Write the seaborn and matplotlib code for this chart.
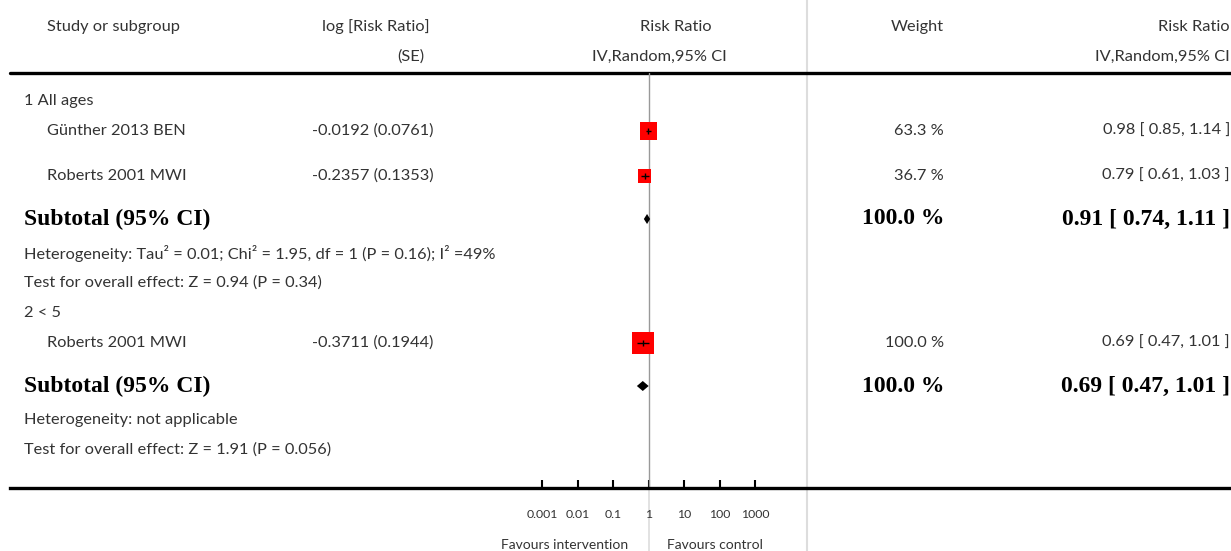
import numpy as np
import pandas as pd
import matplotlib
matplotlib.use("Agg")
import matplotlib.pyplot as plt
import seaborn as sns

# study level data
studies = ["Günther 2013 BEN", "Roberts 2001 MWI", "Roberts 2001 MWI"]
log_rr = ["-0.0192", "-0.2357", "-0.3711"]
log_se = ["0.0761", "0.1353", "0.1944"]
rr = [0.98, 0.79, 0.69]
rr_lo = [0.85, 0.61, 0.47]
rr_hi = [1.14, 1.03, 1.01]
weights = [63.3, 36.7, 100.0]

# subgroup totals
subgroups = ["1 All ages", "2 < 5"]
sub_rr = [0.91, 0.69]
sub_lo = [0.74, 0.47]
sub_hi = [1.11, 1.01]
sub_weight = [100.0, 100.0]
heterogeneity = [
    "Heterogeneity: Tau² = 0.01; Chi² = 1.95, df = 1 (P = 0.16); I² =49%",
    "Heterogeneity: not applicable",
]
overall_test = [
    "Test for overall effect: Z = 0.94 (P = 0.34)",
    "Test for overall effect: Z = 1.91 (P = 0.056)",
]

ticks = [0.001, 0.01, 0.1, 1, 10, 100, 1000]
tick_labels = ["0.001", "0.01", "0.1", "1", "10", "100", "1000"]

# layout (pixel rows)
W, H = 1231, 551
study_y = [131, 176, 343]
head_y = [101, 313]
sub_y = [219, 386]
het_y = [253, 420]
test_y = [283, 450]
top_line, axis_line = 73, 488
x_one, decade = 648.5, 35.5

sns.set_theme(style="white")
plt.rcParams["font.family"] = ["Lato", "DejaVu Sans"]
FS = 11.8
BOLD = dict(family="Liberation Serif", fontweight="bold", fontsize=17, color="black")

fig = plt.figure(figsize=(W / 100, H / 100), dpi=100)
lay = fig.add_axes([0, 0, 1, 1])
lay.set_xlim(0, W)
lay.set_ylim(H, 0)
lay.axis("off")

# forest panel
left, right = 10, W
ax = fig.add_axes([left / W, (H - axis_line) / H, (right - left) / W, (axis_line - top_line) / H])
ax.set_facecolor("none")
ax.set_xscale("log")
ax.set_xlim(10 ** ((left - x_one) / decade), 10 ** ((right - x_one) / decade))
ax.set_ylim(axis_line, top_line)
for s in ["top", "left", "right"]:
    ax.spines[s].set_visible(False)
ax.spines["bottom"].set_linewidth(2.4)
ax.spines["bottom"].set_color("black")

ax.axvline(1, color="#999999", lw=1, zorder=1)
ax.plot([1, 1], [axis_line, H], color="#dddddd", lw=1.2, clip_on=False, zorder=0)

df = pd.DataFrame({"rr": rr, "y": study_y, "w": weights})
side = 2.17 * np.sqrt(df["w"]) * 0.72
sns.scatterplot(data=df, x="rr", y="y", marker="s", s=side ** 2, color="#ff0000",
                linewidth=0, legend=False, ax=ax, zorder=3)
ax.hlines(study_y, rr_lo, rr_hi, color="black", lw=1, zorder=4)
ax.scatter(rr, study_y, marker="|", s=20, color="black", lw=1, zorder=4)

for r, lo, hi, y in zip(sub_rr, sub_lo, sub_hi, sub_y):
    ax.fill([lo, r, hi, r], [y, y - 5, y, y + 5], color="black", lw=0, zorder=4)

ax.set_xticks(ticks)
ax.set_xticklabels(tick_labels)
ax.minorticks_off()
ax.set_yticks([])
ax.tick_params(axis="x", bottom=True, direction="in", length=5.5, width=1.5, color="black",
               labelsize=8.8, pad=15, labelcolor="#333333")
ax.set_xlabel("")
ax.set_ylabel("")

# separator lines
lay.plot([10, W], [top_line, top_line], color="black", lw=2.4)
lay.plot([807, 807], [0, H], color="#dddddd", lw=1.5, zorder=0)

txt = dict(fontsize=FS, color="#333333", va="center")

# headers
lay.text(47, 27, "Study or subgroup", ha="left", **txt)
lay.text(430, 27, "log [Risk Ratio]", ha="right", **txt)
lay.text(424, 57, "(SE)", ha="right", **txt)
lay.text(676, 27, "Risk Ratio", ha="center", **txt)
lay.text(727, 57, "IV,Random,95% CI", ha="right", **txt)
lay.text(944, 27, "Weight", ha="right", **txt)
lay.text(1230, 27, "Risk Ratio", ha="right", **txt)
lay.text(1230, 57, "IV,Random,95% CI", ha="right", **txt)

for name, est, se, w, r, lo, hi, y in zip(studies, log_rr, log_se, weights, rr, rr_lo, rr_hi, study_y):
    lay.text(47, y, name, ha="left", **txt)
    lay.text(312, y, f"{est} ({se})", ha="left", **txt)
    lay.text(944, y, f"{w:.1f} %", ha="right", **txt)
    lay.text(1230, y, f"{r:.2f} [ {lo:.2f}, {hi:.2f} ]", ha="right", **txt)

for i in range(len(subgroups)):
    lay.text(24, head_y[i], subgroups[i], ha="left", **txt)
    lay.text(24, sub_y[i], "Subtotal (95% CI)", ha="left", va="center", **BOLD)
    lay.text(944, sub_y[i], f"{sub_weight[i]:.1f} %", ha="right", va="center", **BOLD)
    lay.text(1230, sub_y[i], f"{sub_rr[i]:.2f} [ {sub_lo[i]:.2f}, {sub_hi[i]:.2f} ]",
             ha="right", va="center", **BOLD)
    lay.text(24, het_y[i], heterogeneity[i], ha="left", **txt)
    lay.text(24, test_y[i], overall_test[i], ha="left", **txt)

lay.text(628, 545, "Favours intervention", ha="right", fontsize=10, color="#333333", va="center")
lay.text(667, 545, "Favours control", ha="left", fontsize=10, color="#333333", va="center")

fig.savefig("out.png", dpi=100)
